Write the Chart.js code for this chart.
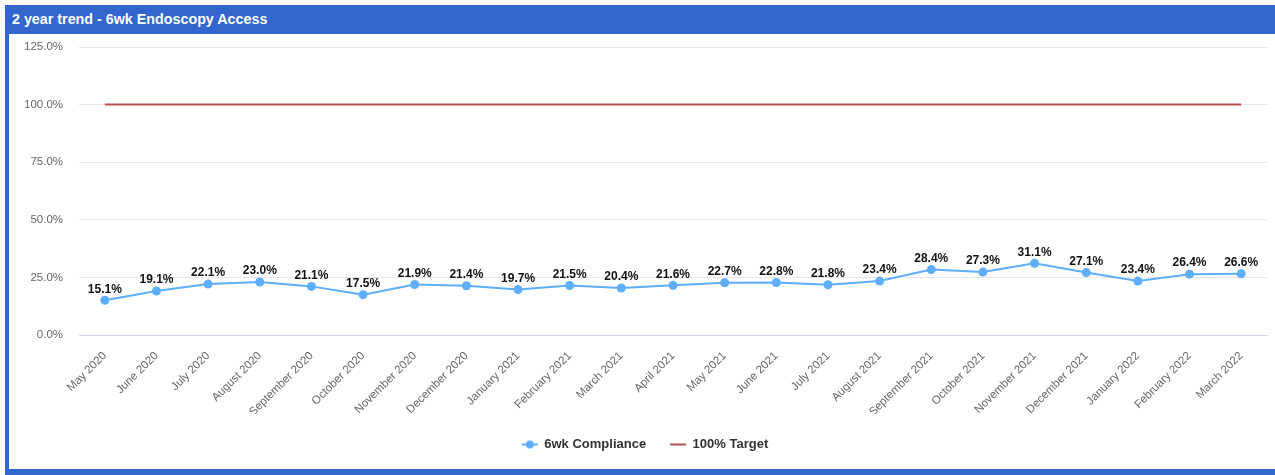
<!DOCTYPE html>
<html><head><meta charset="utf-8">
<script src="https://cdn.jsdelivr.net/npm/chart.js@4"></script>
<style>
html,body{margin:0;padding:0;background:#fff;width:1275px;height:475px;overflow:hidden;font-family:Arial,"Liberation Sans",sans-serif;}
#box{position:absolute;left:5px;top:5px;width:1280px;height:470px;box-sizing:border-box;border-left:4px solid #3366cc;border-bottom:6px solid #3366cc;border-right:4px solid #3366cc;border-top-right-radius:10px;overflow:hidden;}
#hdr{position:absolute;left:0;top:0;right:0;height:29px;background:#3366cc;color:#fff;font-weight:bold;font-size:14.3px;line-height:29px;padding-left:3px;}
#wrap{position:absolute;left:9px;top:34px;width:1266px;height:435px;}
</style></head>
<body>
<div id="box"><div id="hdr">2 year trend - 6wk Endoscopy Access</div></div>
<div id="wrap"><canvas id="c" width="1266" height="435"></canvas></div>
<script>
const months = ["May 2020","June 2020","July 2020","August 2020","September 2020","October 2020","November 2020","December 2020","January 2021","February 2021","March 2021","April 2021","May 2021","June 2021","July 2021","August 2021","September 2021","October 2021","November 2021","December 2021","January 2022","February 2022","March 2022"];
const compliance = [15.1,19.1,22.1,23.0,21.1,17.5,21.9,21.4,19.7,21.5,20.4,21.6,22.7,22.8,21.8,23.4,28.4,27.3,31.1,27.1,23.4,26.4,26.6];
const target = [100,100,100,100,100,100,100,100,100,100,100,100,100,100,100,100,100,100,100,100,100,100,100];
const yTicks = [0,25,50,75,100,125];

const blue = '#5eaefc', red = '#b5534e';
function sym(withDot, color){
  const c = document.createElement('canvas'); c.width = 18; c.height = 10;
  const g = c.getContext('2d');
  g.strokeStyle = color; g.lineWidth = 2; g.beginPath(); g.moveTo(1,5); g.lineTo(17,5); g.stroke();
  if (withDot){ g.fillStyle = color; g.beginPath(); g.arc(9,5,4,0,Math.PI*2); g.fill(); }
  return c;
}
const symbols = [sym(true,blue), sym(false,red)];
const labelPlugin = {
  id:'pointLabels',
  afterDatasetsDraw(chart){
    const ctx = chart.ctx; const meta = chart.getDatasetMeta(0);
    ctx.save(); ctx.font = 'bold 12px Arial, "Liberation Sans"'; ctx.fillStyle = '#111';
    ctx.textAlign = 'center'; ctx.textBaseline = 'middle';
    meta.data.forEach((p,i)=>{ ctx.fillText(compliance[i].toFixed(1)+'%', p.x, p.y-11); });
    ctx.restore();
  }
};
new Chart(document.getElementById('c'), {
  type:'line',
  data:{labels:months, datasets:[
    {label:'6wk Compliance', data:compliance, borderColor:blue, backgroundColor:blue, borderWidth:2, pointRadius:4.5, pointHoverRadius:4.5, pointBorderWidth:0, tension:0},
    {label:'100% Target', data:target, borderColor:red, backgroundColor:red, borderWidth:2, pointRadius:0, tension:0}
  ]},
  options:{
    responsive:false, animation:false, devicePixelRatio:1,
    layout:{padding:{top:13,right:8,left:14,bottom:8}},
    plugins:{
      legend:{position:'bottom', labels:{usePointStyle:true, pointStyleWidth:16, font:{family:'Arial', size:13, weight:'bold'}, color:'#333', padding:24,
        generateLabels(chart){
          const items = Chart.defaults.plugins.legend.labels.generateLabels(chart);
          items.forEach((it,i)=>{ it.pointStyle = symbols[i]; });
          return items;
        }}},
      tooltip:{enabled:false}
    },
    scales:{
      x:{offset:true, grid:{display:false, drawTicks:false}, border:{color:'#ccd6eb'},
        ticks:{maxRotation:45, minRotation:45, autoSkip:false, padding:14, color:'#666', font:{family:'Arial', size:11.5}},
        afterFit(s){ s.height = 79; }},
      y:{min:0, max:125, afterBuildTicks(s){ s.ticks = yTicks.map(v=>({value:v})); },
        grid:{color:'#e6e6e6', drawTicks:false}, border:{display:false},
        ticks:{padding:16, color:'#666', font:{family:'Arial', size:11.5}, callback:v=>v.toFixed(1)+'%'},
        afterFit(s){ s.width = 56; s.paddingTop = 6; s.paddingBottom = 6; }}
    }
  },
  plugins:[labelPlugin]
});
</script>
</body></html>
